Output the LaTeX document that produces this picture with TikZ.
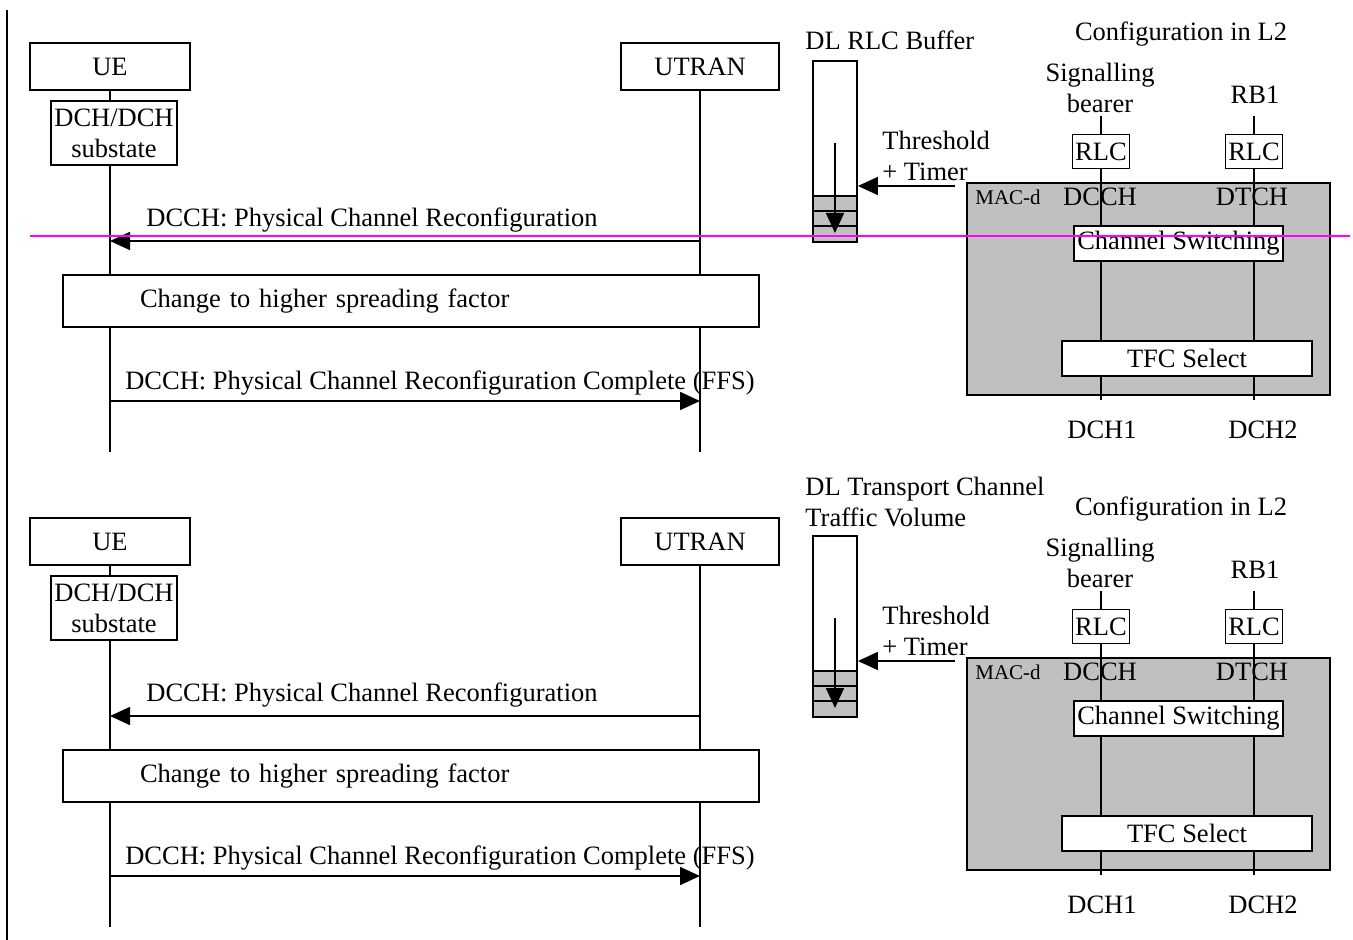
\documentclass[tikz,border=0pt]{standalone}
\usepackage{fontspec}
\setmainfont{Liberation Serif}
\usepackage{xcolor}
\usetikzlibrary{arrows.meta}

\definecolor{macgray}{HTML}{C0C0C0}
\definecolor{guide}{HTML}{FF00FF}

\begin{document}
\begin{tikzpicture}[
    x=0.5pt, y=-0.5pt,
    font=\fontsize{13.25}{15.5}\selectfont,
    ln/.style={line width=0.7pt},
    box/.style={draw, line width=0.9pt, fill=white, inner sep=0pt},
    msg/.style={-{Triangle[length=10pt,width=9pt]}, line width=0.8pt},
    lbl/.style={inner sep=0pt},
    small/.style={font=\fontsize{10.5}{12}\selectfont}
]
\useasboundingbox (0,0) rectangle (1353,940);
\draw[line width=1pt] (7,10) -- (7,940);

\foreach \k/\dy/\buftitle/\bufy in {a/0/{DL RLC Buffer}/40, b/-237.5/{DL Transport Channel\\Traffic Volume}/27}{
\begin{scope}[yshift=\dy pt]
% UE and UTRAN
\node[box, minimum width=80pt, minimum height=23.5pt] (ue\k) at (110,66.5) {UE};
\node[box, minimum width=79pt, minimum height=23.5pt] (utran\k) at (700,66.5) {UTRAN};
\coordinate (ueend\k) at (110,452);
\coordinate (utend\k) at (700,452);
\draw[ln] (ue\k) -- (ueend\k);
\draw[ln] (utran\k) -- (utend\k);
\node[box, minimum width=63pt, minimum height=32pt, align=center] (st\k) at (114,133) {DCH/DCH\\substate};

% messages
\coordinate (m1\k) at (0,241);
\draw[msg] (utran\k |- m1\k) -- (ue\k |- m1\k);
\node[lbl] (m1t\k) at (372,220) {DCCH: Physical Channel Reconfiguration};
\node[box, minimum width=348pt, minimum height=26pt, text width=271pt, inner xsep=38.5pt, align=left] (chg\k) at (411,301) {Change to higher spreading factor};
\coordinate (m2\k) at (0,401);
\draw[msg] (ue\k |- m2\k) -- (utran\k |- m2\k);
\node[lbl] (m2t\k) at (440,383) {DCCH: Physical Channel Reconfiguration Complete (FFS)};

% buffer
\node[lbl, anchor=west, align=left] (buft\k) at (805,\bufy) {\buftitle};
\node[draw, line width=0.9pt, minimum width=22pt, minimum height=90.5pt, inner sep=0pt] (buf\k) at (835,151.5) {};
\filldraw[fill=macgray, line width=0.9pt] (813,196) rectangle (857,242);
\draw[ln] (813,211) -- (857,211) (813,226) -- (857,226);
\draw[msg] (835,143) -- (835,233);
\node[lbl, anchor=west, align=left] (thr\k) at (882,156) {Threshold\\+ Timer};
\coordinate (thrs\k) at (955,186);
\draw[msg] (thrs\k) -- (thrs\k -| buf\k.east);

% configuration in L2
\node[lbl] (cfg\k) at (1181,34) {Configuration in L2};
\node[lbl, align=center] (sb\k) at (1100,88) {Signalling\\bearer};
\node[lbl] (rb\k) at (1255,95) {RB1};
\node[draw, fill=macgray, line width=0.9pt, minimum width=181.5pt, minimum height=106pt] (mac\k) at (1148.5,289) {};
\node[lbl, small] (macl\k) at (1008,197) {MAC-d};
\node[box, minimum width=28.5pt, minimum height=17pt] (rlc1\k) at (1101,151.5) {RLC};
\node[box, minimum width=28.5pt, minimum height=17pt] (rlc2\k) at (1254,151.5) {RLC};
\node[lbl] (dcch\k) at (1100,197) {DCCH};
\node[lbl] (dtch\k) at (1252,197) {DTCH};
\node[lbl] (dch1\k) at (1102,430) {DCH1};
\node[lbl] (dch2\k) at (1263,430) {DCH2};
\coordinate (t1\k) at (1101,116);
\coordinate (t2\k) at (1254,116);
\coordinate (e1\k) at (1101,400);
\coordinate (e2\k) at (1254,400);
\draw[ln] (t1\k) -- (rlc1\k.north) (rlc1\k.south) -- (e1\k);
\draw[ln] (t2\k) -- (rlc2\k.north) (rlc2\k.south) -- (e2\k);
\node[box, minimum width=104.5pt, minimum height=17.5pt] (csw\k) at (1178.5,243.5) {Channel Switching};
\node[box, minimum width=125pt, minimum height=17.5pt] (tfc\k) at (1187,358.5) {TFC Select};
\end{scope}}

\draw[guide, line width=0.6pt] (30,236) -- (1350,236);
\end{tikzpicture}
\end{document}
